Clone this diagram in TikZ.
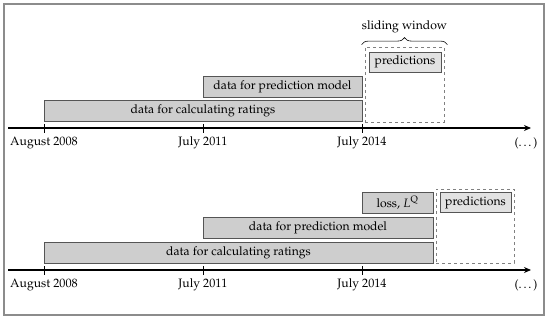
\documentclass[tikz,border=0pt]{standalone}
\usepackage[T1]{fontenc}
\usepackage{mathpazo}
\usetikzlibrary{arrows.meta, positioning, calc, decorations.pathreplacing}
\definecolor{boxgray}{RGB}{206,206,206}
\definecolor{predgray}{RGB}{226,226,226}
\definecolor{edgegray}{RGB}{85,85,85}
\definecolor{framegray}{RGB}{140,140,140}

\begin{document}
\begin{tikzpicture}[x=1pt, y=-1pt, font=\fontsize{12.2}{14}\selectfont,
        databox/.style={draw=edgegray, fill=boxgray, minimum height=21pt, inner sep=0pt},
        predbox/.style={draw=edgegray, fill=predgray, minimum height=20pt, inner sep=0pt},
        window/.style={draw=gray, dashed, thick}]
        \useasboundingbox (0,0) rectangle (550,321);
        \draw[framegray, line width=1.2pt] (4,4) rectangle (544,315);

        % two time axes with the same ticks
        \foreach \r/\y in {a/128, b/270}
        {
            \coordinate (s\r) at (8,\y);
            \coordinate (e\r) at (531,\y);
            \draw[line width=1.5pt, -{Stealth[length=7pt, width=6pt]}] (s\r) -- (e\r);
            \foreach \i/\x/\txt in {1/44/August 2008,2/203/July 2011,3/362/July 2014}
            {
                \coordinate (k\r\i) at (\x,\y-4);
                \coordinate (m\r\i) at (\x,\y+5);
                \draw[thick] (k\r\i) -- (m\r\i);
                \node (t\r\i) at (\x,\y+15) {\txt};
            }
            \node (more\r) at (526,\y+15) {(\dots)};
        }

        % upper timeline
        \node[databox, minimum width=318pt] (calca) at (203,110.5) {data for calculating ratings};
        \node[databox, minimum width=159pt] (modela) at (282.5,86.5) {data for prediction model};
        \node[window, minimum width=79pt, minimum height=75pt] (wina) at (404.5,84.5) {};
        \node[predbox, minimum width=72pt] (preda) at (405,62) {predictions};
        \draw[decorate, decoration={brace, amplitude=7pt}, semithick]
            ([xshift=-3pt, yshift=2pt]wina.north west) -- ([xshift=3pt, yshift=2pt]wina.north east)
            node[midway, above=8pt] (slide) {sliding window};

        % lower timeline
        \node[databox, minimum width=389pt] (calcb) at (238.5,252.5) {data for calculating ratings};
        \node[databox, minimum width=230pt] (modelb) at (318,227.5) {data for prediction model};
        \node[databox, minimum width=71pt] (lossb) at (397.5,202.5) {loss, $L^{\mathrm{Q}}$};
        \node[window, minimum width=78pt, minimum height=74pt] (winb) at (475,226) {};
        \node[predbox, minimum width=71pt] (predb) at (475.5,202.5) {predictions};
    \end{tikzpicture}
\end{document}
